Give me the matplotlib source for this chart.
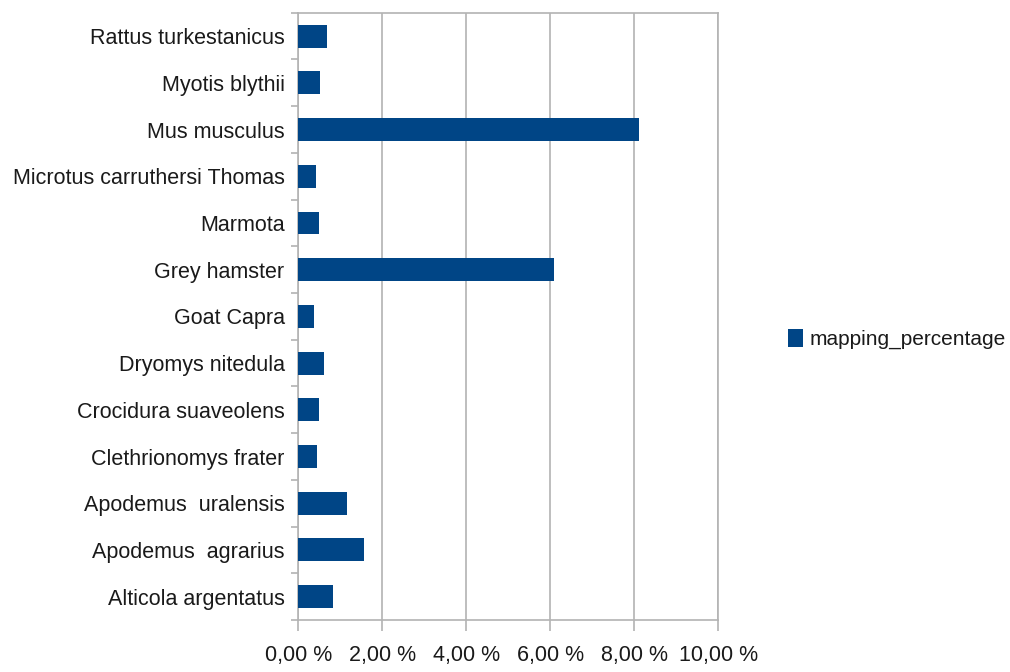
import matplotlib
matplotlib.use("Agg")
import matplotlib.pyplot as plt
from matplotlib.ticker import FuncFormatter, MultipleLocator

# порядок снизу вверх, как на графике
species = ["Alticola argentatus", "Apodemus  agrarius", "Apodemus  uralensis",
           "Clethrionomys frater", "Crocidura suaveolens", "Dryomys nitedula",
           "Goat Capra", "Grey hamster", "Marmota", "Microtus carruthersi Thomas",
           "Mus musculus", "Myotis blythii", "Rattus turkestanicus"]
mapping_percentage = [0.83, 1.56, 1.15, 0.44, 0.49, 0.61,
                      0.36, 6.08, 0.49, 0.42, 8.11, 0.51, 0.69]

plt.rcParams['font.family'] = ['Liberation Sans', 'DejaVu Sans']
bar_col = "#004586"
grid_col = "#b3b3b3"
txt_col = "#1a1a1a"

fig = plt.figure(figsize=(10.1, 6.72), dpi=100)
ax = fig.add_axes([0.2955, 0.0774, 0.4155, 0.9036])

y = range(len(species))
ax.barh(y, mapping_percentage, height=0.49, color=bar_col, label="mapping_percentage", zorder=3)

ax.set_xlim(0, 10)
ax.set_ylim(-0.5, len(species) - 0.5)
ax.xaxis.set_major_locator(MultipleLocator(2))
ax.xaxis.set_major_formatter(FuncFormatter(lambda v, p: f"{v:.2f}".replace(".", ",") + " %"))
ax.grid(axis="x", color=grid_col, lw=1.2, zorder=0)

ax.set_yticks(list(y))
ax.set_yticklabels(species)
ax.set_yticks([i - 0.5 for i in range(len(species) + 1)], minor=True)
ax.tick_params(axis="y", which="major", length=0, pad=10, labelsize=15.5, labelcolor=txt_col)
ax.tick_params(axis="y", which="minor", length=5, color=grid_col, width=1.2)
ax.tick_params(axis="x", length=8, color=grid_col, width=1.2, labelsize=15.5,
               labelcolor=txt_col, pad=10)

for s in ax.spines.values():
    s.set_color(grid_col)
    s.set_linewidth(1.2)

fig.legend(loc="center left", bbox_to_anchor=(0.762, 0.495), frameon=False,
           fontsize=15, handlelength=0.7, handleheight=0.9, handletextpad=0.3,
           labelcolor=txt_col)

fig.savefig("out.png", dpi=100)
